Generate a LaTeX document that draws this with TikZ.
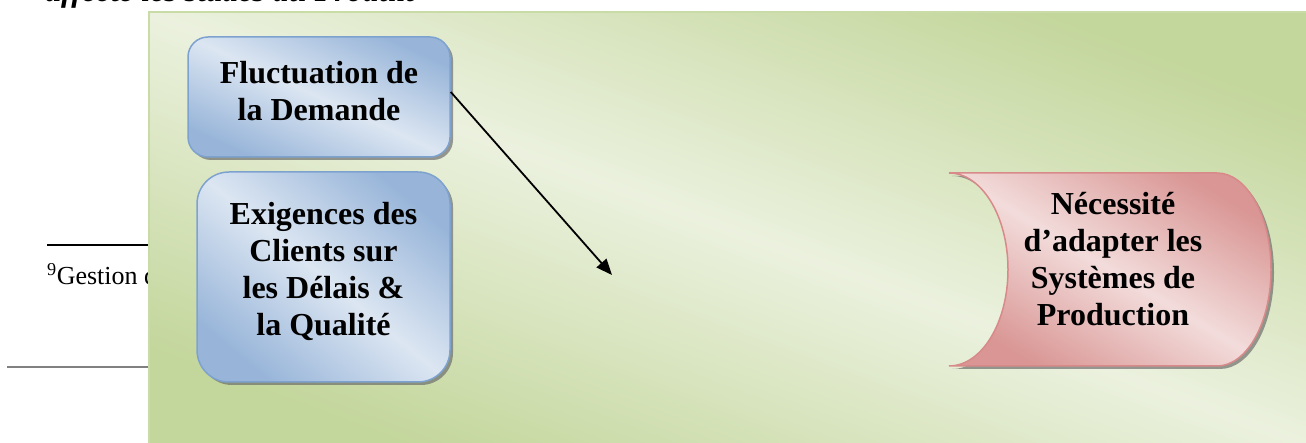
\documentclass[tikz,border=0pt]{standalone}
\usepackage{fontspec}
\setmainfont{Liberation Serif}
\usetikzlibrary{shadows,arrows.meta}

\definecolor{panelDark}{HTML}{C3D69B}
\definecolor{panelLight}{HTML}{EBF1DE}
\definecolor{panelEdge}{HTML}{C9DCA8}
\definecolor{blueDark}{HTML}{98B5D9}
\definecolor{blueLight}{HTML}{DCE6F2}
\definecolor{blueEdge}{HTML}{7EA2D0}
\definecolor{redDark}{HTML}{D99694}
\definecolor{redLight}{HTML}{F2DCDB}
\definecolor{redEdge}{HTML}{D88A8A}

\tikzset{
  boxshadow/.style={drop shadow={shadow xshift=3pt, shadow yshift=-3pt, fill=black!60, opacity=.65}},
  bluebox/.style 2 args={draw=blueEdge, line width=1.5pt, rounded corners=#1,
    top color=blueDark, bottom color=blueDark, middle color=blueLight, shading angle=#2,
    boxshadow, inner sep=0pt},
  boxtext/.style={align=center, inner sep=0pt,
    font=\fontsize{32}{37}\selectfont\bfseries},
  link/.style={line width=1.8pt, -{Triangle[length=16pt,width=13pt]}},
}

\begin{document}
\begin{tikzpicture}[x=1pt,y=1pt]
\useasboundingbox (0,0) rectangle (1306,443);
\clip (0,0) rectangle (1306,443);

% running heading at the very top of the page
\node[anchor=base west, inner sep=0pt, font=\fontsize{32}{37}\selectfont\bfseries\itshape]
  (heading) at (45,441.5) {affecte les stades du Produit};

% footnote rule, footnote and page rule lying under the panel
\coordinate (ruleA) at (47,198);
\coordinate (ruleB) at (170,198);
\draw[line width=1.3pt] (ruleA) -- (ruleB);
\node[anchor=base west, inner sep=0pt, font=\fontsize{26}{30}\selectfont]
  (footnote) at (47,158) {\textsuperscript{9}Gestion de};
\coordinate (pageA) at (7,76);
\coordinate (pageB) at (170,76);
\draw[gray, line width=1.6pt] (pageA) -- (pageB);

% green background panel
\path[draw=panelEdge, line width=2pt,
      top color=panelDark, bottom color=panelDark, middle color=panelLight, shading angle=-20.4]
  (149,-5) rectangle (1312,431);

% input boxes
\node[bluebox={20pt}{-24.6}, minimum width=262pt, minimum height=120pt] (demande) at (319,346) {};
\node[boxtext] (demandeT) at (319,352) {Fluctuation de\\la Demande};

\node[bluebox={32pt}{-39.7}, minimum width=253pt, minimum height=210pt] (clients) at (323.5,166) {};
\node[boxtext] (clientsT) at (323.5,172) {Exigences des\\Clients sur\\les Délais \&\\la Qualité};

% output shape: concave left side, rounded right side
\path[draw=redEdge, line width=1.5pt,
      top color=redDark, bottom color=redDark, middle color=redLight, shading angle=-31,
      boxshadow]
  (949,270) -- (1217,270)
  arc[start angle=90, end angle=-90, x radius=54, y radius=96.5]
  -- (949,77)
  arc[start angle=-90, end angle=90, x radius=59, y radius=96.5] -- cycle;
\node[boxtext] (besoin) at (1113,184) {Nécessité\\d’adapter les\\Systèmes de\\Production};

% connector
\coordinate (tip) at (612,168);
\draw[link] ([yshift=5pt]demande.east) -- (tip);
\end{tikzpicture}
\end{document}
